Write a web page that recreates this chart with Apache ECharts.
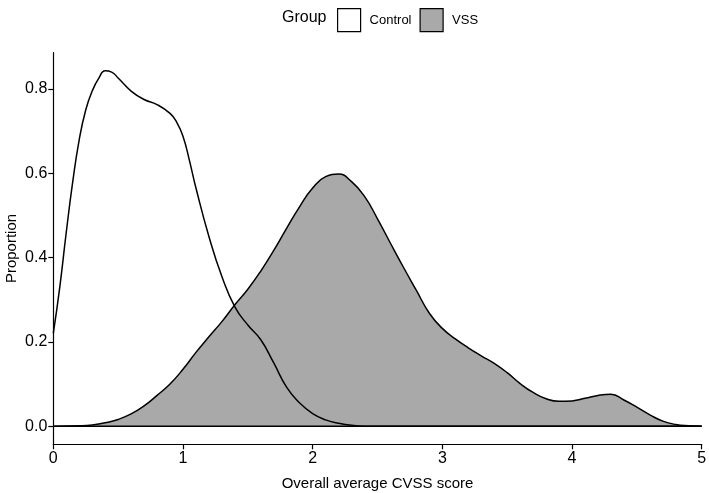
<!DOCTYPE html>
<html>
<head>
<meta charset="utf-8">
<script src="https://cdn.jsdelivr.net/npm/echarts@6/dist/echarts.min.js"></script>
<style>html,body{margin:0;padding:0;background:#fff}#c{width:709px;height:493px}</style>
</head>
<body>
<div id="c"></div>
<script>
// Data (x = overall average CVSS score, y = proportion/density)
const controlX = [0, 0.05, 0.1, 0.15, 0.2, 0.25, 0.3, 0.35, 0.4, 0.45, 0.5, 0.6, 0.7, 0.8, 0.9, 0.95, 1.0, 1.05, 1.1, 1.2, 1.3, 1.4, 1.5, 1.6, 1.7, 1.8, 1.9, 2.0, 2.1, 2.2, 2.3, 2.4, 2.6, 3.0, 3.5, 4.0, 4.5, 5.0];
const controlY = [0.22, 0.33, 0.46, 0.58, 0.68, 0.75, 0.795, 0.825, 0.843, 0.840, 0.826, 0.795, 0.775, 0.763, 0.742, 0.722, 0.688, 0.63, 0.565, 0.45, 0.355, 0.283, 0.24, 0.205, 0.15, 0.092, 0.055, 0.03, 0.015, 0.007, 0.002, 0.0, 0.0, 0.0, 0.0, 0.0, 0.0, 0.0];
const vssX = [0, 0.2, 0.3, 0.4, 0.5, 0.6, 0.7, 0.8, 0.9, 1.0, 1.1, 1.2, 1.3, 1.4, 1.5, 1.6, 1.7, 1.8, 1.9, 2.0, 2.1, 2.2, 2.3, 2.4, 2.5, 2.6, 2.7, 2.8, 2.9, 3.0, 3.1, 3.2, 3.3, 3.4, 3.5, 3.6, 3.7, 3.8, 3.9, 4.0, 4.1, 4.2, 4.3, 4.4, 4.5, 4.6, 4.7, 4.8, 4.9, 5.0];
const vssY = [0, 0.001, 0.003, 0.008, 0.016, 0.029, 0.048, 0.073, 0.10, 0.135, 0.175, 0.212, 0.248, 0.288, 0.325, 0.368, 0.417, 0.47, 0.521, 0.565, 0.592, 0.598, 0.58, 0.545, 0.492, 0.434, 0.377, 0.322, 0.268, 0.232, 0.207, 0.186, 0.167, 0.149, 0.127, 0.101, 0.08, 0.065, 0.059, 0.060, 0.066, 0.073, 0.076, 0.062, 0.045, 0.027, 0.012, 0.004, 0.001, 0];
const yTicks = [0, 0.2, 0.4, 0.6, 0.8];
const xTicks = [0, 1, 2, 3, 4, 5];
const groups = ['Control', 'VSS'];

const zip = (xs, ys) => xs.map((x, i) => [x, ys[i]]);
const FONT = 'Liberation Sans, Arial, sans-serif';

const chart = echarts.init(document.getElementById('c'), null, {renderer: 'canvas'});
chart.setOption({
  animation: false,
  title: {
    text: 'Group', left: 277, top: 5,
    textStyle: {fontFamily: FONT, fontSize: 16, fontWeight: 'normal', color: '#000'}
  },
  legend: {
    left: 332, top: 3,
    icon: 'rect', itemWidth: 23, itemHeight: 23, itemGap: 8,
    textStyle: {fontFamily: FONT, fontSize: 13, color: '#000', padding: [0, 0, 0, 4]},
    data: [
      {name: groups[0], itemStyle: {color: '#ffffff', borderColor: '#000', borderWidth: 1.2}},
      {name: groups[1], itemStyle: {color: '#a9a9a9', borderColor: '#000', borderWidth: 1.2}}
    ],
    selectedMode: false
  },
  grid: {left: 53.3, right: 7.3, top: 52.7, bottom: 48.7, containLabel: false, outerBoundsMode: 'none'},
  xAxis: {
    type: 'value', min: 0, max: 5, interval: 1,
    name: 'Overall average CVSS score', nameLocation: 'middle', nameGap: 32,
    nameTextStyle: {fontFamily: FONT, fontSize: 15, color: '#000'},
    axisLine: {onZero: false, lineStyle: {color: '#000', width: 1.2}},
    axisTick: {show: true, length: 5, lineStyle: {color: '#000', width: 1.2}},
    axisLabel: {fontFamily: FONT, fontSize: 16, color: '#000', margin: 6,
      customValues: xTicks, formatter: v => String(v)},
    splitLine: {show: false}
  },
  yAxis: {
    type: 'value', min: -0.043, max: 0.886,
    name: 'Proportion', nameLocation: 'middle', nameGap: 34, nameRotate: 90,
    nameMoveOverlap: false,
    nameTextStyle: {fontFamily: FONT, fontSize: 15, color: '#000'},
    axisLine: {show: true, lineStyle: {color: '#000', width: 1.2}},
    axisTick: {show: true, length: 5, lineStyle: {color: '#000', width: 1.2}, customValues: yTicks},
    axisLabel: {fontFamily: FONT, fontSize: 16, color: '#000', margin: 6,
      customValues: yTicks, formatter: v => v.toFixed(1)},
    splitLine: {show: false}
  },
  series: [
    {
      name: groups[1], type: 'line', smooth: 0.5, symbol: 'none',
      data: zip(vssX, vssY),
      lineStyle: {color: '#000', width: 1.5},
      itemStyle: {color: '#a9a9a9'},
      areaStyle: {color: '#a9a9a9', opacity: 1, origin: 0},
      z: 2
    },
    {
      name: 'baseline', type: 'line', symbol: 'none', silent: true,
      data: [[xTicks[0], 0], [xTicks[xTicks.length - 1], 0]],
      lineStyle: {color: '#000', width: 1.5}, z: 3
    },
    {
      name: groups[0], type: 'line', smooth: 0.5, symbol: 'none',
      data: zip(controlX, controlY),
      lineStyle: {color: '#000', width: 1.5},
      itemStyle: {color: '#ffffff'},
      z: 4
    }
  ]
});
</script>
</body>
</html>
